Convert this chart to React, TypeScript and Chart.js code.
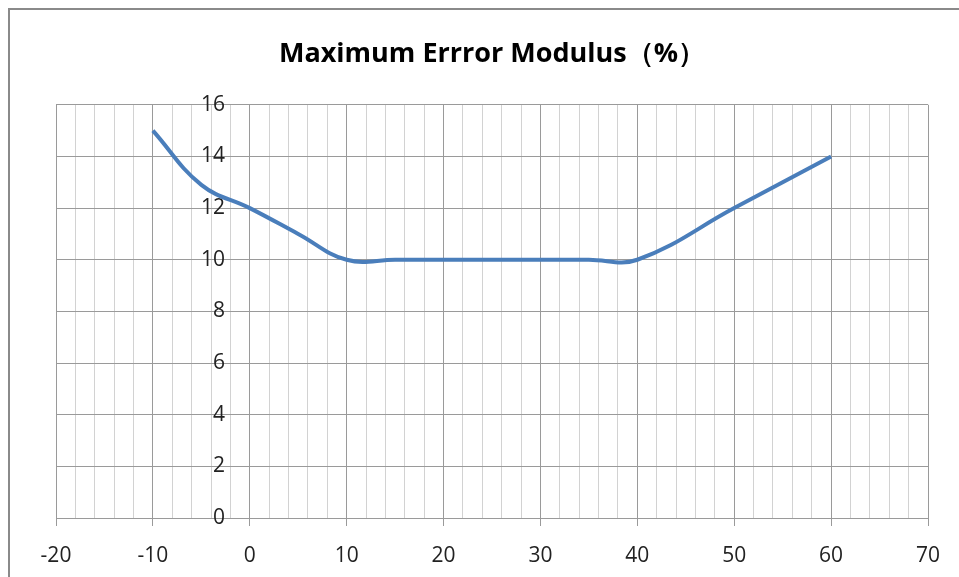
import React, { useEffect, useRef } from "react";
import { Chart, registerables } from "chart.js";

Chart.register(...registerables);

const temperatures = [-10, -5, 0, 5, 10, 15, 20, 25, 30, 35, 40, 50, 60];
const errorModulus = [15, 12.9, 12, 11, 10, 10, 10, 10, 10, 10, 10, 12, 14];
const chartTitle = "Maximum Errror Modulus（%）";
const xMin = -20;
const xMax = 70;
const yMin = 0;
const yMax = 16;

export default function App() {
  const ref = useRef<HTMLCanvasElement | null>(null);

  useEffect(() => {
    if (!ref.current) return;
    const data = temperatures.map((t, i) => ({ x: t, y: errorModulus[i] }));
    const tickFont = { family: "'Open Sans', sans-serif", size: 21 };
    const chart = new Chart(ref.current, {
      type: "line",
      data: {
        datasets: [
          {
            data,
            borderColor: "#4A7EBB",
            borderWidth: 4,
            pointRadius: 0,
            tension: 0.4,
            fill: false,
          },
        ],
      },
      options: {
        responsive: false,
        animation: false,
        layout: { padding: { left: 56, right: 31, top: 0, bottom: 0 } },
        plugins: {
          legend: { display: false },
          tooltip: { enabled: false },
          title: {
            display: true,
            text: chartTitle,
            color: "#000",
            font: { family: "'Open Sans', sans-serif", size: 27, weight: "bold", lineHeight: 1.2 },
            padding: { top: 38, bottom: 34.4 },
          },
        },
        scales: {
          x: {
            type: "linear",
            min: xMin,
            max: xMax,
            afterFit: (scale: any) => {
              scale.height = 59;
            },
            ticks: {
              stepSize: 2,
              autoSkip: false,
              maxRotation: 0,
              minRotation: 0,
              color: "#222",
              font: tickFont,
              padding: 17,
              callback: (v: any) => (Math.round(v) % 10 === 0 ? String(v) : ""),
            },
            grid: {
              color: (ctx: any) => (ctx.tick && Math.round(ctx.tick.value) % 10 === 0 ? "#9a9a9a" : "#d2d2d2"),
              tickColor: (ctx: any) => (ctx.tick && Math.round(ctx.tick.value) % 10 === 0 ? "#9a9a9a" : "rgba(0,0,0,0)"),
              tickLength: 8,
              lineWidth: 1,
            },
            border: { color: "#9a9a9a" },
          },
          y: {
            type: "linear",
            min: yMin,
            max: yMax,
            position: { x: -2.56 } as any,
            ticks: {
              stepSize: 2,
              color: "#222",
              font: tickFont,
            },
            grid: {
              color: "#9a9a9a",
              drawTicks: false,
              lineWidth: 1,
            },
            border: { display: false },
          },
        },
      },
    });
    return () => chart.destroy();
  }, []);

  return (
    <div style={{ position: "fixed", left: 0, top: 0, width: 959, height: 577, background: "#fff", overflow: "hidden" }}>
      <div
        style={{
          position: "absolute",
          left: 8,
          top: 8,
          width: 1000,
          height: 700,
          borderLeft: "2px solid #8a8a8a",
          borderTop: "2px solid #8a8a8a",
        }}
      />
      <canvas ref={ref} width={959} height={577} style={{ position: "absolute", left: 0, top: 0 }} />
    </div>
  );
}
